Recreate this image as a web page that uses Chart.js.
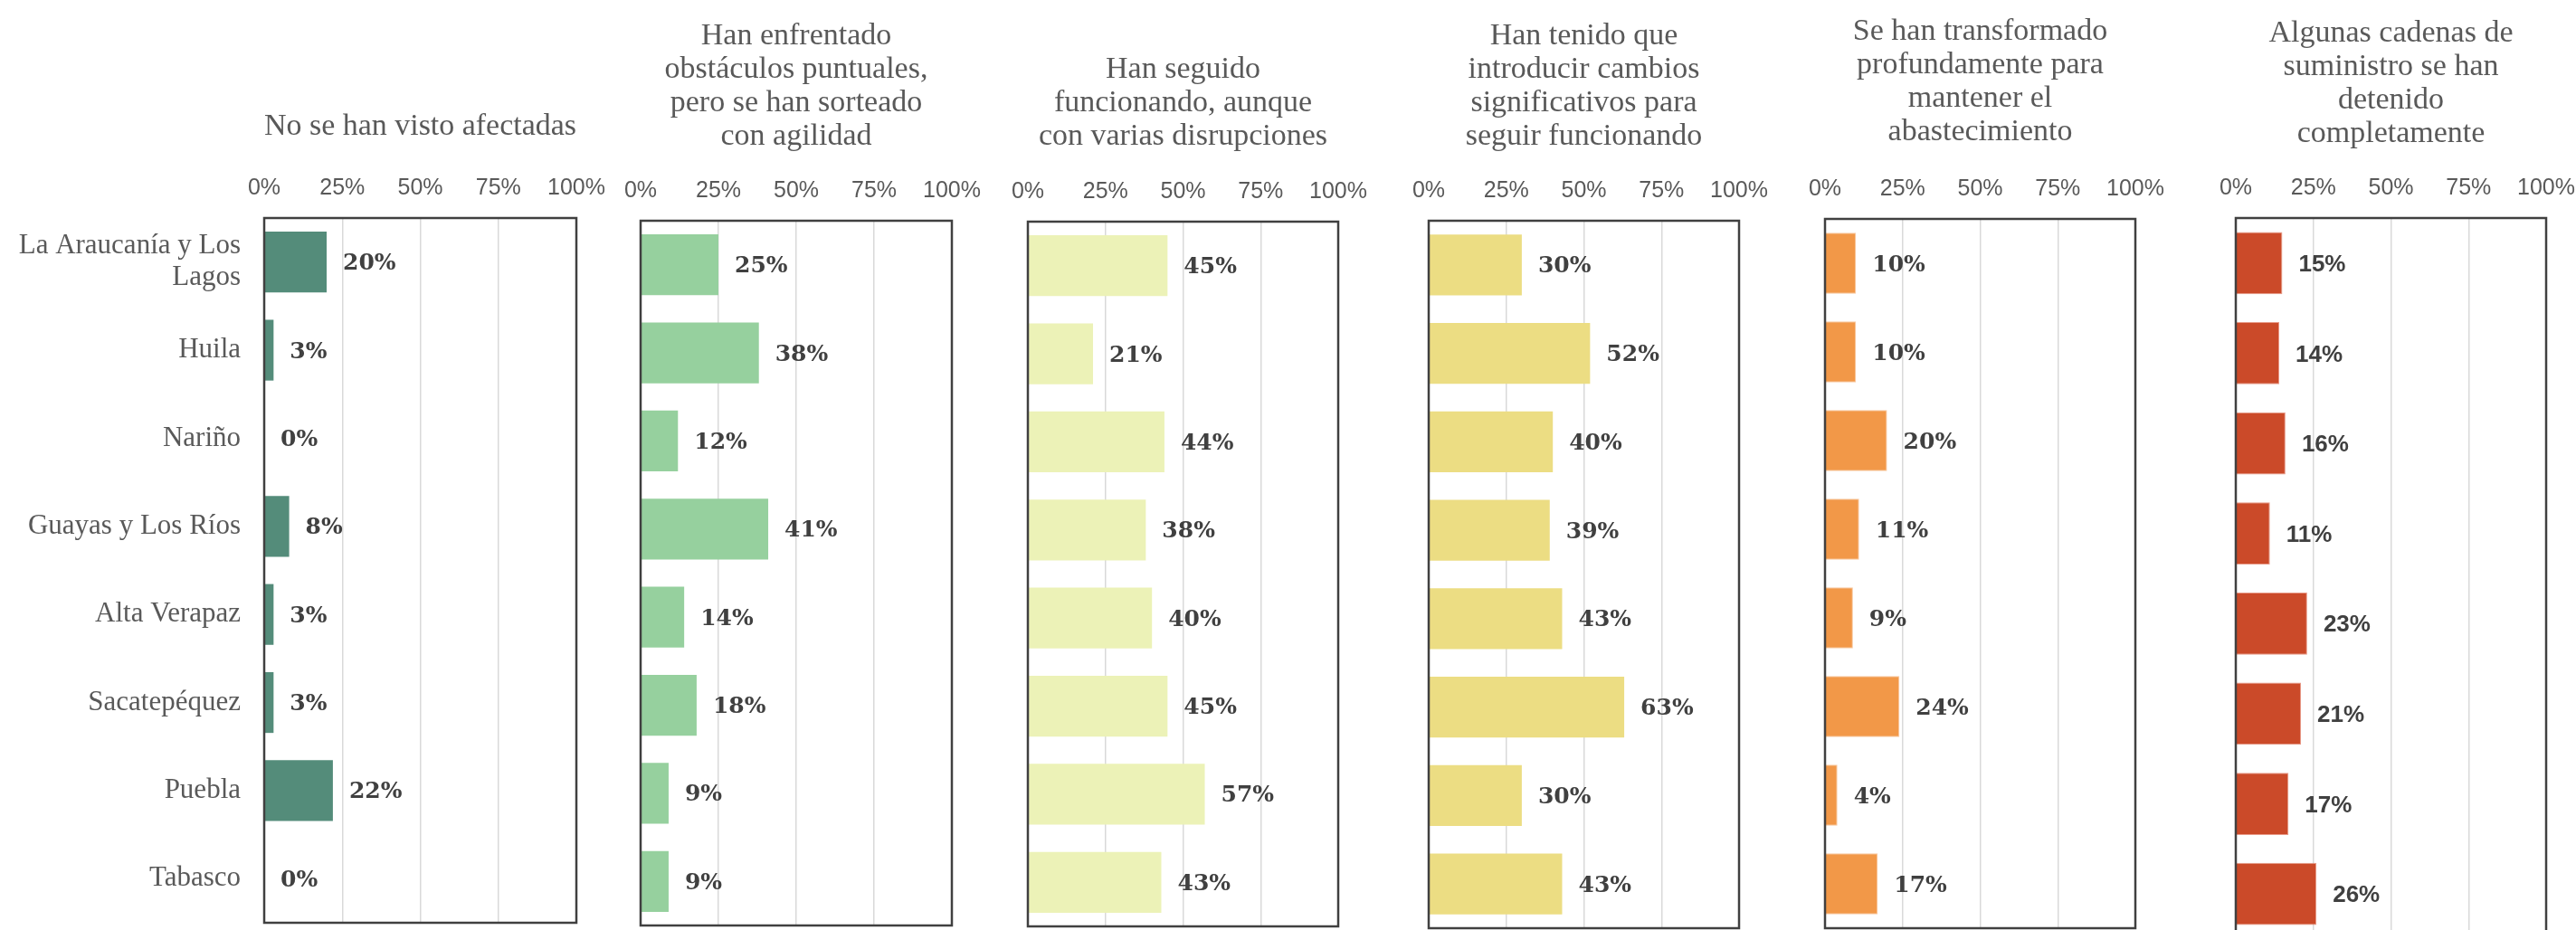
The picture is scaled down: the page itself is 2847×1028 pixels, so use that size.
<!DOCTYPE html>
<html>
<head>
<meta charset="utf-8">
<script src="https://cdn.jsdelivr.net/npm/chart.js@4.4.1/dist/chart.umd.min.js"></script>
<style>
  html, body { margin: 0; padding: 0; background: #fff; overflow: hidden; }
  body { width: 2847px; height: 1028px; position: relative; }
  .panel { position: absolute; top: 0; height: 1046px; }
</style>
</head>
<body>
<div id="wrap"></div>
<script>
// Categories (regions)
const categories = [['La Araucanía y Los', 'Lagos'], 'Huila', 'Nariño', 'Guayas y Los Ríos', 'Alta Verapaz', 'Sacatepéquez', 'Puebla', 'Tabasco'];
const tickLabels = ['0%', '25%', '50%', '75%', '100%'];

// Panel titles
const title1 = ['No se han visto afectadas'];
const title2 = ['Han enfrentado', 'obstáculos puntuales,', 'pero se han sorteado', 'con agilidad'];
const title3 = ['Han seguido', 'funcionando, aunque', 'con varias disrupciones'];
const title4 = ['Han tenido que', 'introducir cambios', 'significativos para', 'seguir funcionando'];
const title5 = ['Se han transformado', 'profundamente para', 'mantener el', 'abastecimiento'];
const title6 = ['Algunas cadenas de', 'suministro se han', 'detenido', 'completamente'];

// Values (%)
const noAfectadas = [20, 3, 0, 8, 3, 3, 22, 0];
const obstaculos = [25, 38, 12, 41, 14, 18, 9, 9];
const disrupciones = [45, 21, 44, 38, 40, 45, 57, 43];
const cambios = [30, 52, 40, 39, 43, 63, 30, 43];
const transformado = [10, 10, 20, 11, 9, 24, 4, 17];
const detenido = [15, 14, 16, 11, 23, 21, 17, 26];

const serifLabel = 'bold 25px "DejaVu Serif"';
const sansLabel = 'bold 26px "Liberation Sans", Arial, sans-serif';

// Panel layout: plot box edges in page pixels
const panels = [
    { title: title1, data: noAfectadas, color: '#548c7a', left: 292, right: 637, top: 241, bottom: 1020, firstLine: 140, font: serifLabel },
    { title: title2, data: obstaculos, color: '#96d09e', left: 708, right: 1052, top: 244, bottom: 1023, firstLine: 40, font: serifLabel },
    { title: title3, data: disrupciones, color: '#ecf2b7', left: 1136, right: 1479, top: 245, bottom: 1024, firstLine: 77, font: serifLabel },
    { title: title4, data: cambios, color: '#ecdd83', left: 1579, right: 1922, top: 244, bottom: 1026, firstLine: 40, font: serifLabel },
    { title: title5, data: transformado, color: '#f29848', border: '#f8c8a0', left: 2017, right: 2360, top: 242, bottom: 1026, firstLine: 35, font: serifLabel },
    { title: title6, data: detenido, color: '#cb4a29', border: '#e89a88', left: 2471, right: 2814, top: 241, bottom: 1038, firstLine: 37, font: sansLabel }
];

// Frame around the plot area + value labels at bar ends
const boxAndLabels = {
    id: 'boxAndLabels',
    afterDatasetsDraw(chart, args, opts) {
        const ctx = chart.ctx;
        const a = chart.chartArea;
        ctx.save();
        ctx.strokeStyle = '#404040';
        ctx.lineWidth = 2.5;
        ctx.strokeRect(a.left, a.top, a.right - a.left, a.bottom - a.top);

        const meta = chart.getDatasetMeta(0);
        const values = chart.data.datasets[0].data;
        ctx.font = opts.font;
        ctx.fillStyle = '#404040';
        ctx.textAlign = 'left';
        ctx.textBaseline = 'middle';
        meta.data.forEach((bar, i) => {
            ctx.fillText(values[i] + '%', bar.x + 18, bar.y + 2);
        });
        ctx.restore();
    }
};

// no extra edge padding from tick labels, the layout padding decides
function noEdgePadding(scale) {
    scale.paddingLeft = 0;
    scale.paddingRight = 0;
    scale.paddingTop = 0;
    scale.paddingBottom = 0;
}

const PAD = 40;
const TICK_PAD = 18;
const AXIS_H = 25 * 1.2 + 2 * TICK_PAD;
const TITLE_LH = 37;
const H = 1046;
const wrap = document.getElementById('wrap');

panels.forEach((p, idx) => {
    const first = idx === 0;
    const div = document.createElement('div');
    div.className = 'panel';
    const divLeft = first ? 0 : p.left - PAD;
    const divWidth = p.right + PAD - divLeft;
    div.style.left = divLeft + 'px';
    div.style.width = divWidth + 'px';
    const canvas = document.createElement('canvas');
    div.appendChild(canvas);
    wrap.appendChild(div);

    const titleH = p.top - AXIS_H;
    const padTop = p.firstLine - TITLE_LH / 2;
    const padBottom = titleH - padTop - p.title.length * TITLE_LH;

    new Chart(canvas.getContext('2d'), {
        type: 'bar',
        data: {
            labels: categories,
            datasets: [{
                data: p.data,
                backgroundColor: p.color,
                borderColor: p.border || p.color,
                borderWidth: p.border ? 1 : 0,
                barPercentage: 0.69,
                categoryPercentage: 1
            }]
        },
        options: {
            indexAxis: 'y',
            responsive: true,
            maintainAspectRatio: false,
            animation: false,
            layout: {
                padding: { left: first ? 0 : PAD, right: PAD, top: 0, bottom: H - p.bottom }
            },
            plugins: {
                legend: { display: false },
                tooltip: { enabled: false },
                title: {
                    display: true,
                    text: p.title,
                    fullSize: false,
                    color: '#595959',
                    font: { family: '"Liberation Serif", "Times New Roman", serif', size: 34, weight: 'normal', lineHeight: TITLE_LH + 'px' },
                    padding: { top: padTop, bottom: padBottom }
                },
                boxAndLabels: { font: p.font }
            },
            scales: {
                x: {
                    position: 'top',
                    min: 0,
                    max: 100,
                    border: { display: false },
                    grid: { color: '#d9d9d9', lineWidth: 1.5, drawTicks: false },
                    ticks: {
                        stepSize: 25,
                        padding: TICK_PAD,
                        color: '#595959',
                        font: { family: '"Liberation Sans", Arial, sans-serif', size: 25 },
                        callback: v => tickLabels[v / 25]
                    },
                    afterFit: noEdgePadding
                },
                y: {
                    display: first,
                    border: { display: false },
                    grid: { display: false, drawTicks: false },
                    ticks: {
                        padding: 26,
                        color: '#595959',
                        font: { family: '"Liberation Serif", "Times New Roman", serif', size: 31, lineHeight: '35px' }
                    },
                    afterFit: scale => {
                        noEdgePadding(scale);
                        if (first) scale.width = p.left;
                    }
                }
            }
        },
        plugins: [boxAndLabels]
    });
});
</script>
</body>
</html>
